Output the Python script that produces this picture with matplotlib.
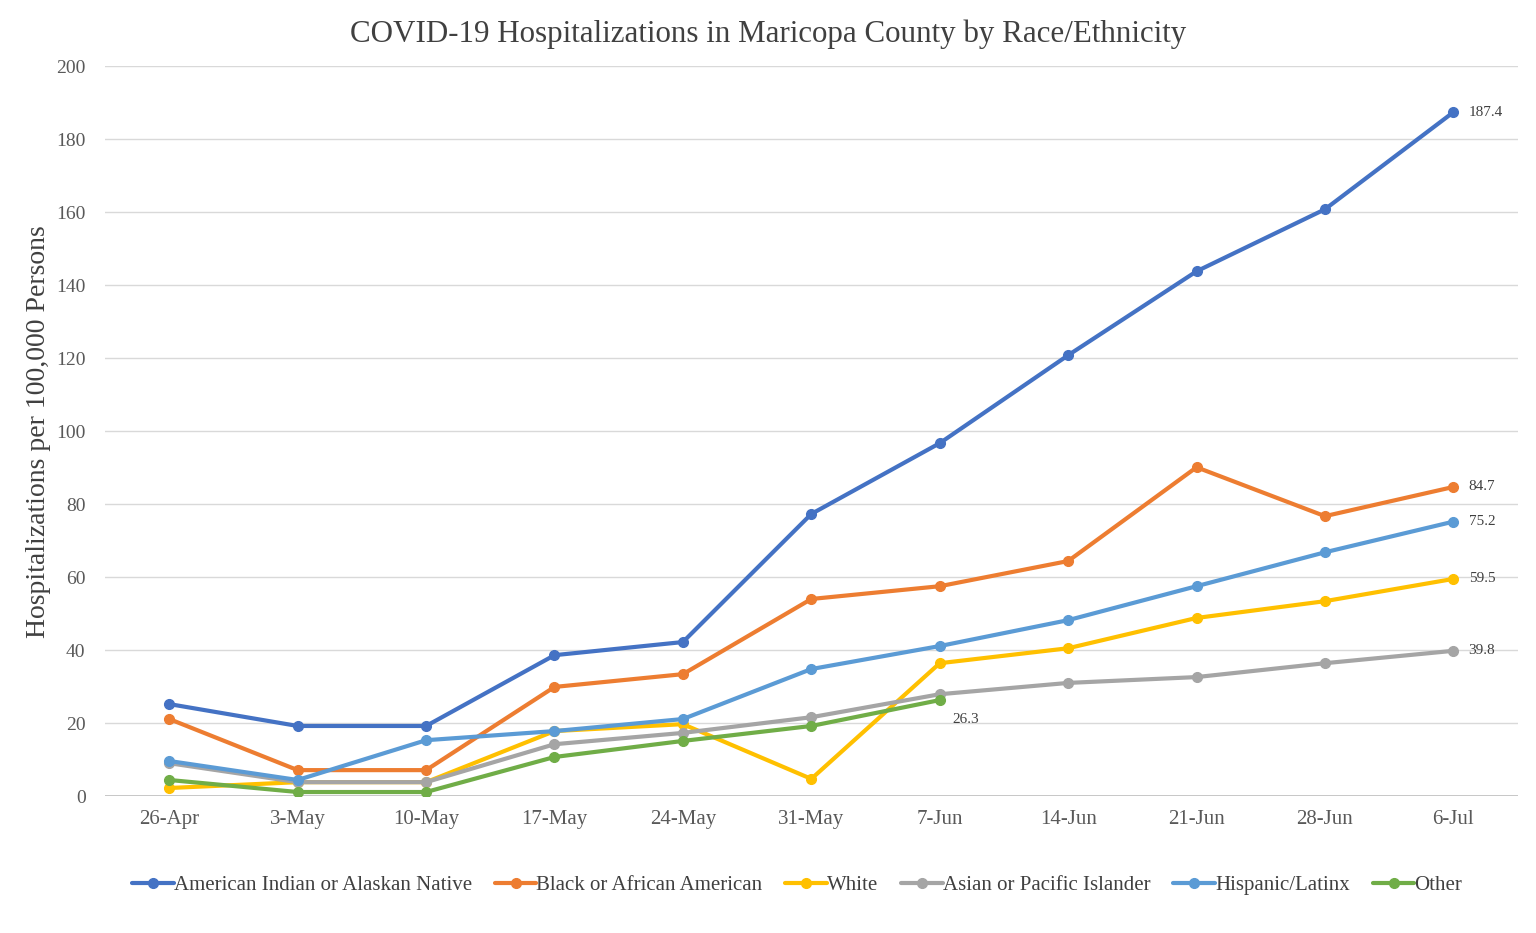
import matplotlib
matplotlib.use("Agg")
import matplotlib.pyplot as plt
import numpy as np

plt.rcParams['font.family'] = ['Liberation Serif', 'DejaVu Serif']

dates = ["26-Apr", "3-May", "10-May", "17-May", "24-May", "31-May",
         "7-Jun", "14-Jun", "21-Jun", "28-Jun", "6-Jul"]

american_indian = [25.2, 19.2, 19.2, 38.6, 42.2, 77.3, 96.7, 120.8, 143.8, 160.8, 187.4]
black = [21.1, 7.1, 7.1, 29.9, 33.4, 54.0, 57.5, 64.4, 90.1, 76.7, 84.7]
white = [2.2, 3.8, 3.8, 17.8, 19.7, 4.7, 36.4, 40.5, 48.8, 53.4, 59.5]
asian = [9.0, 3.8, 3.8, 14.2, 17.3, 21.6, 27.9, 31.0, 32.6, 36.4, 39.8]
hispanic = [9.6, 4.4, 15.3, 17.8, 21.1, 34.8, 41.1, 48.2, 57.5, 66.8, 75.2]
other = [4.4, 1.1, 1.1, 10.7, 15.1, 19.2, 26.3]

series = [
    ("American Indian or Alaskan Native", american_indian, "#4472C4"),
    ("Black or African American", black, "#ED7D31"),
    ("White", white, "#FFC000"),
    ("Asian or Pacific Islander", asian, "#A5A5A5"),
    ("Hispanic/Latinx", hispanic, "#5B9BD5"),
    ("Other", other, "#70AD47"),
]

fig = plt.figure(figsize=(15.36, 9.33), dpi=100)
ax = fig.add_axes([0.0684, 0.1468, 0.9196, 0.7822])

x = np.arange(len(dates))
for name, vals, col in series:
    xs = x[:len(vals)]
    ax.plot(xs, vals, color=col, lw=3, marker='o', ms=7, label=name,
            solid_capstyle='round', zorder=3)
    ax.annotate(f"{vals[-1]:.1f}", (xs[-1], vals[-1]),
                xytext=(11, 0) if name != "Other" else (9, -14),
                textcoords='offset points', va='center', ha='left',
                fontsize=11, color='#404040')

ax.set_xlim(-0.5, len(dates) - 0.5)
ax.set_ylim(0, 200)
ax.set_yticks(np.arange(0, 201, 20))
ax.set_xticks(x)
ax.set_xticklabels(dates)
ax.tick_params(axis='x', length=0, labelsize=15, colors='#595959', pad=10)
ax.tick_params(axis='y', length=0, labelsize=14, colors='#595959', pad=14)
ax.grid(axis='y', color='#D9D9D9', lw=1)
ax.axhline(0, color='#BFBFBF', lw=1.2, zorder=1)
ax.set_axisbelow(True)
for s in ax.spines.values():
    s.set_visible(False)

ax.set_ylabel("Hospitalizations per 100,000 Persons", fontsize=20, color='#404040', labelpad=4)
fig.text(0.5, 0.963, "COVID-19 Hospitalizations in Maricopa County by Race/Ethnicity",
         ha='center', va='center', fontsize=22.3, color='#404040')

leg = fig.legend(loc='center', bbox_to_anchor=(0.519, 0.051), ncol=6, frameon=False,
                 fontsize=15, handlelength=2.0, handletextpad=0.0, columnspacing=1.1)
for t in leg.get_texts():
    t.set_color('#404040')

fig.savefig("out.png", dpi=100)
